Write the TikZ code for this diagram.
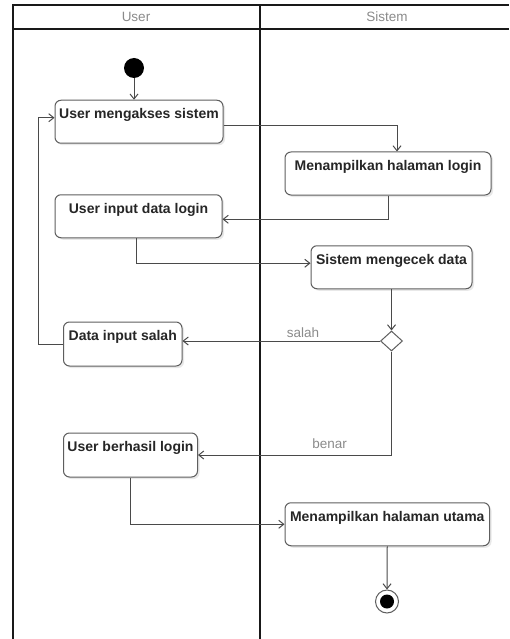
\documentclass[tikz,border=0pt]{standalone}
\usepackage{fontspec}
\setmainfont{Liberation Sans}
\usetikzlibrary{calc,arrows.meta,shapes.geometric,shadows}
\definecolor{edge}{HTML}{4A4A4A}
\definecolor{boxline}{HTML}{5E5E5E}
\definecolor{hdrtext}{HTML}{8A8A8A}

\begin{document}
\begin{tikzpicture}[x=1pt,y=-1pt,
  act/.style={draw=boxline,fill=white,line width=1pt,rounded corners=6pt,minimum height=43pt,
    drop shadow={shadow xshift=2pt,shadow yshift=-2pt,opacity=0.18}},
  acttext/.style={anchor=north,yshift=-5.5pt,font=\fontsize{14}{16}\selectfont\bfseries,text=black!85},
  hdr/.style={font=\fontsize{13.5}{15}\selectfont,text=hdrtext},
  guard/.style={font=\fontsize{13.5}{15}\selectfont,text=hdrtext},
  flow/.style={draw=edge,line width=1pt,-{Straight Barb[length=5pt,width=8pt]}},
  lane/.style={line width=2pt,black!90}]
              \useasboundingbox(0,0)rectangle(509,639);
              \draw[lane](12.5,639)--(12.5,5.5)--(509,5.5);
              \draw[lane](12.5,29.5)--(509,29.5);
              \draw[lane](259.5,5.5)--(259.5,639);
              \node[hdr](user)at(136,17){User};
              \node[hdr](sistem)at(387,17){Sistem};
              \node[circle,fill=black,inner sep=0pt,minimum size=20pt](start)at(134,68){};
              \node[act,minimum width=168pt,label={[acttext]north:User mengakses sistem}](akses)at(139,121.75){};
              \node[act,minimum width=206pt,label={[acttext]north:Menampilkan halaman login}](tampil)at(388,173.5){};
              \node[act,minimum width=167pt,label={[acttext]north:User input data login}](input)at(138.5,216.25){};
              \node[act,minimum width=161pt,label={[acttext]north:Sistem mengecek data}](cek)at(391.5,267.25){};
              \node[diamond,draw=boxline,fill=white,line width=1pt,inner sep=0pt,minimum width=22pt,minimum height=20pt](dec)at(391.5,341){};
              \node[act,minimum width=118.5pt,minimum height=44pt,label={[acttext]north:Data input salah}](salah)at(122.75,344){};
              \node[act,minimum width=134pt,minimum height=44pt,label={[acttext]north:User berhasil login}](berhasil)at(130.5,455){};
              \node[act,minimum width=204.5pt,label={[acttext]north:Menampilkan halaman utama}](utama)at(387.25,524.25){};
              \node[circle,draw=boxline,fill=white,line width=1pt,inner sep=0pt,minimum size=23pt](stop)at(387,601.5){};
              \node[circle,fill=black,inner sep=0pt,minimum size=14pt](stopdot)at(stop){};
              \draw[flow](start)--(start|-akses.north);
              \draw[flow]([yshift=-4pt]akses.east)-|([xshift=9pt]tampil.north);
              \draw[flow](tampil.south)|-([yshift=-3pt]input.east);
              \draw[flow]([xshift=-2pt]input.south)|-([yshift=4pt]cek.west);
              \draw[flow](cek.south)--(dec.north);
              \draw[flow](dec.west)--(dec.west-|salah.east)node[guard,above,pos=0.39]{salah};
              \draw[flow](salah.west)--++(-25,0)|-([yshift=4pt]akses.west);
              \draw[flow](dec.south)|-(berhasil.east)node[guard,above=3pt,pos=0.66]{benar};
              \draw[flow](berhasil.south)|-(utama.west);
              \draw[flow](utama.south)--(stop.north);
            \end{tikzpicture}
\end{document}
